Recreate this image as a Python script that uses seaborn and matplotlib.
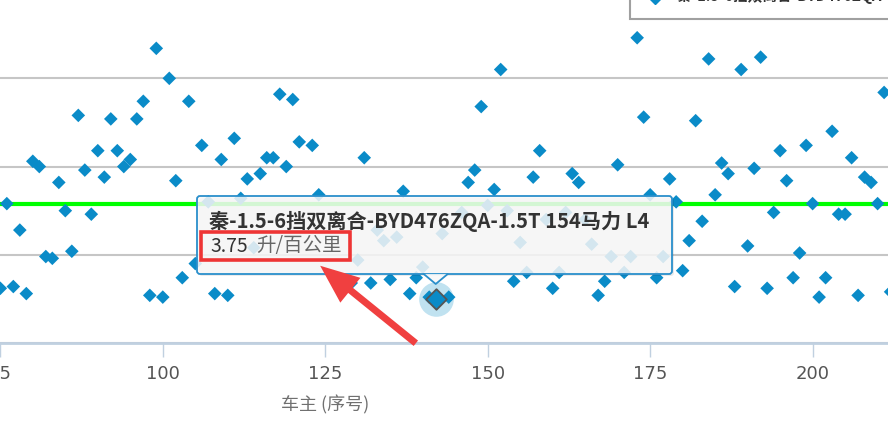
import matplotlib
matplotlib.use("Agg")
import matplotlib.pyplot as plt
import matplotlib.transforms as mtransforms
from matplotlib.patches import FancyBboxPatch, Rectangle, Polygon, FancyArrowPatch
from matplotlib.lines import Line2D
import seaborn as sns
import pandas as pd

# 车主序号 / 百公里油耗
owner_id = [75, 76, 77, 78, 79, 80, 81, 82, 83, 84, 85, 86, 87, 88, 89, 90,
            91, 92, 93, 94, 95, 96, 97, 98, 99, 100, 101, 102, 103, 104, 105,
            106, 107, 108, 109, 110, 111, 112, 113, 114, 115, 116, 117, 118,
            119, 120, 121, 123, 124, 129, 130, 131, 132, 133, 134, 135, 136,
            137, 138, 139, 140, 141, 142, 143, 144, 146, 147, 148, 149, 150,
            151, 152, 153, 154, 155, 156, 157, 158, 159, 160, 161, 162, 163,
            164, 165, 166, 167, 168, 169, 170, 171, 172, 173, 174, 175, 176,
            177, 178, 179, 180, 181, 182, 183, 184, 185, 186, 187, 188, 189,
            190, 191, 192, 193, 194, 195, 196, 197, 198, 199, 200, 201, 202,
            203, 204, 205, 206, 207, 208, 209, 210, 211, 212]
fuel = [3.81, 4.29, 3.82, 4.14, 3.78, 4.53, 4.50, 3.99, 3.98, 4.41, 4.25, 4.02,
        4.79, 4.48, 4.23, 4.59, 4.44, 4.77, 4.59, 4.50, 4.54, 4.77, 4.87, 3.77,
        5.17, 3.76, 5.00, 4.42, 3.87, 4.87, 3.95, 4.62, 4.30, 3.78, 4.54, 3.77,
        4.66, 4.32, 4.43, 4.04, 4.46, 4.55, 4.55, 4.91, 4.50, 4.88, 4.64, 4.62,
        4.34, 3.84, 3.97, 4.55, 3.84, 4.14, 4.08, 3.86, 4.10, 4.36, 3.78, 3.87,
        3.93, 3.76, 3.75, 4.12, 3.76, 4.24, 4.41, 4.48, 4.84, 4.28, 4.37, 5.05,
        4.25, 3.85, 4.07, 3.90, 4.44, 4.59, 4.20, 3.81, 3.90, 4.24, 4.46, 4.41,
        4.20, 4.06, 3.77, 3.85, 3.99, 4.51, 3.90, 3.99, 5.23, 4.78, 4.34, 3.87,
        3.99, 4.43, 4.30, 3.91, 4.08, 4.76, 4.19, 5.11, 4.34, 4.52, 4.46, 3.82,
        5.05, 4.05, 4.49, 5.12, 3.81, 4.24, 4.59, 4.42, 3.87, 4.01, 4.62, 4.29,
        3.76, 3.87, 4.70, 4.23, 4.23, 4.55, 3.77, 4.44, 4.41, 4.29, 4.92, 3.79]
avg_fuel = 4.29
x_ticks = [75, 100, 125, 150, 175, 200]
y_grid = [3.5, 4.0, 4.5, 5.0]
hover_id = 142
hover_fuel = 3.75
series_name = "秦-1.5-6挡双离合-BYD476ZQA-1.5T 154马力 L4"

df = pd.DataFrame({"owner": owner_id, "fuel": fuel})

sns.set_theme(style="white")
cjk = ["Noto Sans CJK SC", "DejaVu Sans"]
plt.rcParams["font.family"] = cjk

W, H = 888, 434
fig = plt.figure(figsize=(W / 100, H / 100), dpi=100)
ax = fig.add_axes([0, 91 / H, 1, 343 / H])
# pixel transform, origin top-left
px = mtransforms.Affine2D().scale(1 / W, -1 / H).translate(0, 1) + fig.transFigure

blue = "#0A8BC8"
sns.scatterplot(data=df, x="owner", y="fuel", marker="D", s=48, color=blue,
                edgecolor="none", linewidth=0, ax=ax, zorder=3, legend=False)

ax.axhline(avg_fuel, color="#00FF00", lw=3, zorder=2)

# hovered point
ax.scatter([hover_id], [hover_fuel], s=620, marker="o", color="#058DC7",
           alpha=0.25, linewidth=0, zorder=4)
ax.scatter([hover_id], [hover_fuel], s=110, marker="D", color=blue,
           edgecolor="#555555", linewidth=1.3, zorder=5)

ax.set_xlim(74.95, 211.6)
ax.set_ylim(3.5, 5.444)
ax.set_xticks(x_ticks)
ax.set_yticks(y_grid)
ax.yaxis.grid(True, color="#C6C6C6", lw=1.5)
ax.xaxis.grid(False)
for s in ["top", "left", "right"]:
    ax.spines[s].set_visible(False)
ax.spines["bottom"].set_color("#C0D0E0")
ax.spines["bottom"].set_linewidth(2)
ax.spines["bottom"].set_zorder(6)
ax.tick_params(axis="y", left=False, labelleft=False)
ax.tick_params(axis="x", bottom=True, length=10, width=1, color="#C0D0E0",
               labelsize=13, labelcolor="#555555", pad=6)
for lab in ax.get_xticklabels():
    lab.set_family(["Liberation Sans Narrow", "DejaVu Sans"])
ax.set_xlabel("车主 (序号)", fontsize=13, color="#707070")
ax.xaxis.set_label_coords(325 / W, -(395 - 343) / 343)
ax.set_ylabel("")

# tooltip
tip_x = ax.transData.transform((hover_id, hover_fuel))[0]
shadow = FancyBboxPatch((199, 198), 475, 78, boxstyle="round,pad=0,rounding_size=3",
                        transform=px, fc=(0, 0, 0, 0.08), ec="none", zorder=9)
box = FancyBboxPatch((197, 196), 475, 78, boxstyle="round,pad=0,rounding_size=3",
                     transform=px, fc=(0.976, 0.976, 0.976, 0.85), ec="#2A8FCB",
                     lw=1.3, zorder=10)
fig.patches.extend([shadow, box])
tri = Polygon([(tip_x - 12, 274), (tip_x, 284), (tip_x + 12, 274)], closed=True,
              transform=px, fc=(0.976, 0.976, 0.976, 0.85), ec="none", zorder=10)
fig.patches.append(tri)
fig.lines.append(Line2D([tip_x - 12, tip_x, tip_x + 12], [274, 284, 274],
                        transform=px, color="#2A8FCB", lw=1.3, zorder=11))
fig.text(209, 221, series_name, transform=px, fontsize=14.5, fontweight="bold",
         color="#333333", va="center", ha="left", zorder=12)
fig.text(210, 246, f"{hover_fuel:.2f}", transform=px, fontsize=14,
         color="#333333", va="center", ha="left", zorder=12)
fig.text(256, 246, "升/百公里", transform=px, fontsize=14,
         color="#666666", va="center", ha="left", zorder=12)

# red highlight
fig.patches.append(Rectangle((201, 232), 149, 28, transform=px, fill=False,
                             ec="#EE3535", lw=2.6, zorder=13))
arrow = FancyArrowPatch((418, 345), (318, 264), transform=px,
                        arrowstyle="simple,head_length=1.4,head_width=1.15,tail_width=0.25",
                        mutation_scale=20, color="#F04040", lw=0, zorder=13)
fig.patches.append(arrow)

# legend box, cut by the top edge
fig.patches.append(Rectangle((630, -25), 300, 44, transform=px, fc="white",
                             ec="#A0A0A0", lw=1.5, zorder=10))
fig.lines.append(Line2D([655], [-2], transform=px, marker="D", markersize=6,
                        color=blue, lw=0, zorder=11))
fig.text(677, -4, series_name, transform=px, fontsize=10.5, fontweight="bold",
         color="#333333", va="center", ha="left", zorder=12)

fig.savefig("out.png", dpi=100)
